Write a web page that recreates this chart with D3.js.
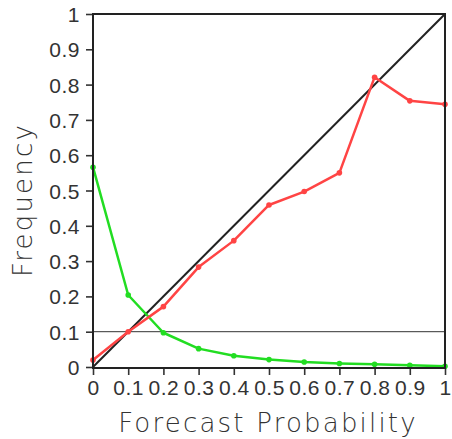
<!DOCTYPE html>
<html><head><meta charset="utf-8">
<script src="https://cdn.jsdelivr.net/npm/d3@7"></script>
<style>body{margin:0;background:#fff}svg{display:block}</style>
</head><body>
<script>
const probs = [0,0.1,0.2,0.3,0.4,0.5,0.6,0.7,0.8,0.9,1.0];
const reliability = [0.02,0.10,0.171,0.283,0.358,0.459,0.497,0.55,0.821,0.754,0.744];
const sharpness = [0.566,0.204,0.097,0.052,0.032,0.021,0.014,0.010,0.0075,0.005,0.002];
const xTicks = [0,0.1,0.2,0.3,0.4,0.5,0.6,0.7,0.8,0.9,1];
const yTicks = [0,0.1,0.2,0.3,0.4,0.5,0.6,0.7,0.8,0.9,1];
const refLine = 0.1;

const W=452,H=439;
const svg=d3.select("body").append("svg").attr("width",W).attr("height",H);
const x=d3.scaleLinear().domain([0,1]).range([93,445]);
const y=d3.scaleLinear().domain([0,1]).range([367,14]);
const font="'Liberation Sans', Arial, sans-serif";
const tfont="'DejaVu Sans', sans-serif";
const fmt=d=>d===0?"0":d===1?"1":d3.format(".1f")(d);

// axes
const gx=svg.append("g").attr("transform","translate(0,368)")
  .call(d3.axisBottom(x).tickValues(xTicks).tickFormat(fmt).tickSize(7).tickSizeOuter(0));
const gy=svg.append("g").attr("transform","translate(93,0)")
  .call(d3.axisLeft(y).tickValues(yTicks).tickFormat(fmt).tickSize(7).tickSizeOuter(0));
[gx,gy].forEach(g=>{
  g.select(".domain").remove();
  g.selectAll(".tick line").attr("stroke","#333").attr("stroke-width",1.6);
  g.selectAll(".tick text").attr("font-family",font).attr("font-size",21).attr("fill","#333").attr("letter-spacing",0.5);
});
gx.selectAll(".tick text").attr("y",12).attr("dy","0.71em");
gy.selectAll(".tick text").attr("x",-13).attr("dy","0.36em");

// reference lines
svg.append("line").attr("x1",x(0)).attr("x2",x(1)).attr("y1",y(refLine)).attr("y2",y(refLine))
  .attr("stroke","#333").attr("stroke-width",1);
svg.append("line").attr("x1",x(0)).attr("y1",y(0)).attr("x2",x(1)).attr("y2",y(1))
  .attr("stroke","#222").attr("stroke-width",2);

// series
const line=d3.line().x((d,i)=>x(probs[i])).y(d=>y(d));
function series(vals,color){
  svg.append("path").datum(vals).attr("d",line).attr("fill","none")
    .attr("stroke",color).attr("stroke-width",2.5).attr("stroke-linejoin","round");
  svg.append("g").selectAll("circle").data(vals).join("circle")
    .attr("cx",(d,i)=>x(probs[i])).attr("cy",d=>y(d)).attr("r",2.8).attr("fill",color);
}
series(sharpness,"#22dd22");
series(reliability,"#ff4444");

// frame
svg.append("rect").attr("x",x(0)).attr("y",y(1)).attr("width",x(1)-x(0)).attr("height",368-y(1))
  .attr("fill","none").attr("stroke","#222").attr("stroke-width",2);

// titles
svg.append("text").attr("x",268).attr("y",432).attr("text-anchor","middle")
  .attr("font-family",tfont).attr("font-weight",200).attr("font-size",26).attr("letter-spacing",2.2).attr("fill","#333")
  .text("Forecast Probability");
svg.append("text").attr("transform","translate(32,200) rotate(-90)").attr("text-anchor","middle")
  .attr("font-family",tfont).attr("font-weight",200).attr("font-size",26).attr("letter-spacing",2.2).attr("fill","#333")
  .text("Frequency");
</script>
</body></html>
